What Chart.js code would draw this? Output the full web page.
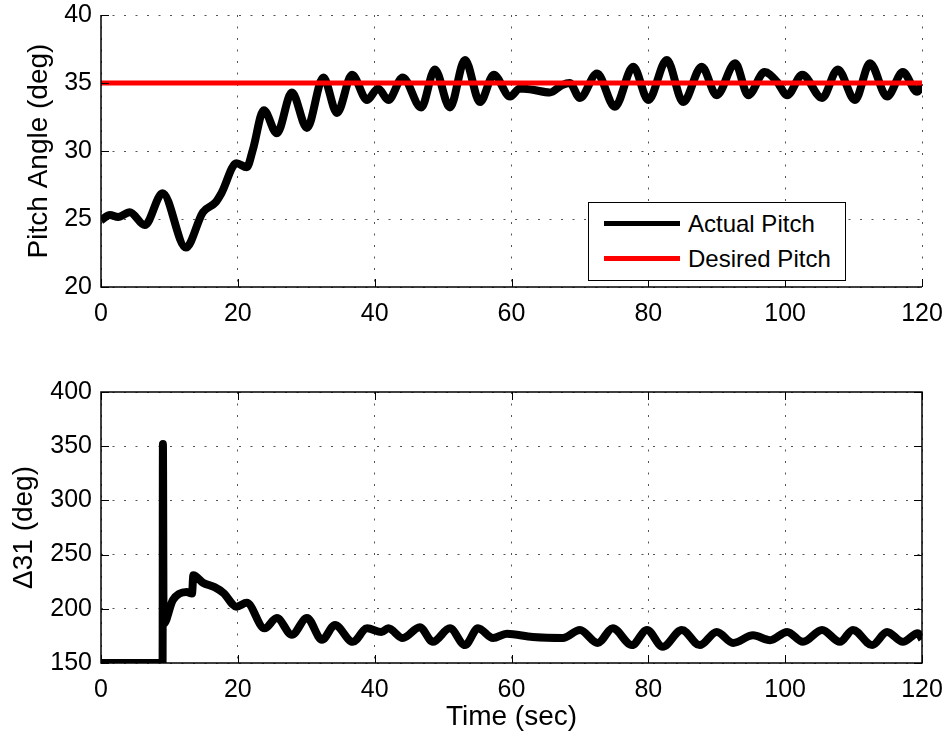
<!DOCTYPE html>
<html>
<head>
<meta charset="utf-8">
<script src="https://cdn.jsdelivr.net/npm/chart.js@4.4.1/dist/chart.umd.min.js"></script>
<style>
  body { margin: 0; background: #fff; }
  #wrap { position: relative; width: 946px; height: 736px; font-family: "Liberation Sans", Arial, sans-serif; }
  .pane { position: absolute; left: 0; width: 946px; }
  #legend { position: absolute; left: 588px; top: 202px; width: 256px; height: 77px; border: 1px solid #000; background: #fff; }
  .swatch { position: absolute; left: 15px; width: 76px; height: 5px; }
  .lbl { position: absolute; left: 99px; font-size: 24px; line-height: 24px; color: #000; }
</style>
</head>
<body>
<div id="wrap">
  <div class="pane" style="top:0;height:340px"><canvas id="grafico-pitch" width="946" height="340"></canvas></div>
  <div class="pane" style="top:340px;height:396px"><canvas id="grafico-delta" width="946" height="396"></canvas></div>
  <div id="legend">
    <div class="swatch" style="top:18px;background:#000"></div>
    <div class="lbl" style="top:9px">Actual Pitch</div>
    <div class="swatch" style="top:53px;background:#ff0000"></div>
    <div class="lbl" style="top:44px">Desired Pitch</div>
  </div>
</div>
<script>
// pitch angle (deg) vs time (sec)
const tempoPitch = [0, 1.3, 2.5, 4.2, 6.4, 9.0, 12.4, 14.9, 16.7, 17.6, 19.8, 21.3, 22.2, 23.8, 25.7, 27.9, 30.1, 32.5, 34.5, 36.7,
  38.9, 40.5, 42.0, 44.1, 46.8, 48.8, 51.0, 53.2, 55.4, 57.4, 59.8, 61.2, 63.1, 65.6, 67.4, 68.5, 70.0, 72.5, 75.1, 77.8,
  80.0, 82.7, 85.1, 87.8, 90.0, 92.7, 94.6, 97.0, 98.8, 100.3, 102.5, 105.4, 107.7, 110.2, 112.4, 114.9, 117.2, 119.3, 120];
const pitchReal = [24.9, 25.3, 25.15, 25.5, 24.55, 26.9, 22.9, 25.5, 26.2, 26.9, 29.1, 28.8, 30.1, 33.0, 31.3, 34.3, 31.7, 35.4, 32.8, 35.6,
  33.75, 34.6, 33.75, 35.4, 33.2, 36.0, 33.2, 36.7, 33.6, 35.6, 34.0, 34.6, 34.5, 34.3, 34.85, 35.0, 33.9, 35.7, 33.25, 36.2,
  33.75, 36.7, 33.6, 36.2, 34.1, 36.45, 34.1, 35.8, 35.1, 34.1, 35.6, 33.9, 36.0, 33.75, 36.45, 34.0, 35.8, 34.35, 35.0];
const tempoDesejado = [0, 120];
const pitchDesejado = [35, 35];

// delta 31 (deg) vs time (sec)
const tempoDelta = [0, 9.0, 9.05, 9.15, 10.5, 12.5, 13.3, 13.5, 14.9, 16.6, 17.9, 19.8, 21.3, 23.9, 25.7, 27.9, 30.1, 32.3, 34.2, 36.8,
  38.9, 41.0, 42.0, 44.1, 46.6, 48.5, 51.0, 53.2, 55.1, 57.3, 59.3, 63.1, 67.5, 70.0, 72.6, 74.8, 77.6, 79.8, 82.1, 84.9,
  87.5, 90.0, 92.4, 95.3, 97.8, 100.3, 102.6, 105.4, 108.0, 109.9, 112.7, 114.9, 117.2, 119.4, 120];
const delta31 = [150, 150, 352, 186, 208, 215.5, 214, 231, 224, 220, 214.6, 202, 205.5, 182, 191.5, 176, 191.5, 171.5, 185, 169.5,
  182, 178.6, 182, 173, 183, 169.5, 182, 166.5, 182, 173, 177, 174, 173, 180.5, 168.5, 182, 166.5, 180.5, 165, 180.5,
  166.5, 178.6, 168.5, 175.5, 171, 178.6, 169.5, 180.5, 169.5, 180.5, 166.5, 178.6, 169.5, 177.5, 172];

const ticksX = [0, 20, 40, 60, 80, 100, 120];

Chart.defaults.font.family = '"Liberation Sans", Arial, sans-serif';
Chart.defaults.color = '#000';

function pontos(xs, ys) {
  return xs.map((x, i) => ({ x: x, y: ys[i] }));
}

// MATLAB style box: solid axis lines and inward tick marks
const caixaEixos = {
  id: 'caixaEixos',
  afterDatasetsDraw(chart, args, opts) {
    const { ctx, chartArea: a, scales: { x, y } } = chart;
    ctx.save();
    ctx.strokeStyle = '#000';
    ctx.lineWidth = 1.5;
    ctx.beginPath();
    ctx.moveTo(a.left, a.top);
    ctx.lineTo(a.left, a.bottom);
    ctx.lineTo(a.right, a.bottom);
    if (opts.full) {
      ctx.lineTo(a.right, a.top);
      ctx.closePath();
    }
    ctx.stroke();
    ctx.lineWidth = 1;
    ctx.beginPath();
    x.ticks.forEach(t => {
      const px = Math.round(x.getPixelForValue(t.value)) + 0.5;
      ctx.moveTo(px, a.bottom); ctx.lineTo(px, a.bottom - 8);
      if (opts.full) { ctx.moveTo(px, a.top); ctx.lineTo(px, a.top + 8); }
    });
    y.ticks.forEach(t => {
      const py = Math.round(y.getPixelForValue(t.value)) + 0.5;
      ctx.moveTo(a.left, py); ctx.lineTo(a.left + 8, py);
      if (opts.full) { ctx.moveTo(a.right, py); ctx.lineTo(a.right - 8, py); }
    });
    ctx.stroke();
    ctx.restore();
  }
};

function fixar(tam, horizontal) {
  return function (scale) {
    if (horizontal) scale.height = tam; else scale.width = tam;
    scale.paddingTop = 0; scale.paddingBottom = 0;
    scale.paddingLeft = 0; scale.paddingRight = 0;
  };
}

const grade = { color: '#555', lineWidth: 1, drawTicks: false };
const borda = { display: false, dash: [2, 9.5] }; // dotted grid lines

function eixoX(altura, titulo) {
  return {
    type: 'linear', min: 0, max: 120,
    afterFit: fixar(altura, true),
    afterBuildTicks: s => { s.ticks = ticksX.map(v => ({ value: v })); },
    grid: grade,
    border: borda,
    ticks: { font: { size: 25 }, padding: 12, maxRotation: 0 },
    title: titulo ? { display: true, text: titulo, font: { size: 28 }, padding: { top: 0, bottom: 2 } } : { display: false }
  };
}

function eixoY(min, max, passo, titulo, padTitulo) {
  return {
    min: min, max: max,
    afterFit: fixar(101, false),
    grid: grade,
    border: borda,
    ticks: { stepSize: passo, font: { size: 25 }, padding: 9 },
    title: { display: true, text: titulo, font: { size: 28 }, padding: { top: padTitulo, bottom: 0 } }
  };
}

new Chart(document.getElementById('grafico-pitch').getContext('2d'), {
  type: 'line',
  data: {
    datasets: [
      {
        label: 'Actual Pitch',
        data: pontos(tempoPitch, pitchReal),
        borderColor: '#000',
        borderWidth: 8,
        pointRadius: 0,
        cubicInterpolationMode: 'monotone',
        borderJoinStyle: 'round',
        order: 2
      },
      {
        label: 'Desired Pitch',
        data: pontos(tempoDesejado, pitchDesejado),
        borderColor: '#ff0000',
        borderWidth: 5,
        pointRadius: 0,
        order: 1
      }
    ]
  },
  options: {
    responsive: false,
    animation: false,
    layout: { padding: { top: 15, right: 24, left: 0, bottom: 0 } },
    plugins: { legend: { display: false }, tooltip: { enabled: false }, caixaEixos: { full: false } },
    scales: {
      x: eixoX(53, null),
      y: eixoY(20, 40, 5, 'Pitch Angle (deg)', 22)
    }
  },
  plugins: [caixaEixos]
});

new Chart(document.getElementById('grafico-delta').getContext('2d'), {
  type: 'line',
  data: {
    datasets: [{
      label: '\u039431',
      data: pontos(tempoDelta, delta31),
      borderColor: '#000',
      borderWidth: 8,
      pointRadius: 0,
      cubicInterpolationMode: 'monotone',
      borderJoinStyle: 'round'
    }]
  },
  options: {
    responsive: false,
    animation: false,
    layout: { padding: { top: 52, right: 24, left: 0, bottom: 0 } },
    plugins: { legend: { display: false }, tooltip: { enabled: false }, caixaEixos: { full: true } },
    scales: {
      x: eixoX(73, 'Time (sec)'),
      y: eixoY(150, 400, 50, '\u039431 (deg)', 7)
    }
  },
  plugins: [caixaEixos]
});
</script>
</body>
</html>
